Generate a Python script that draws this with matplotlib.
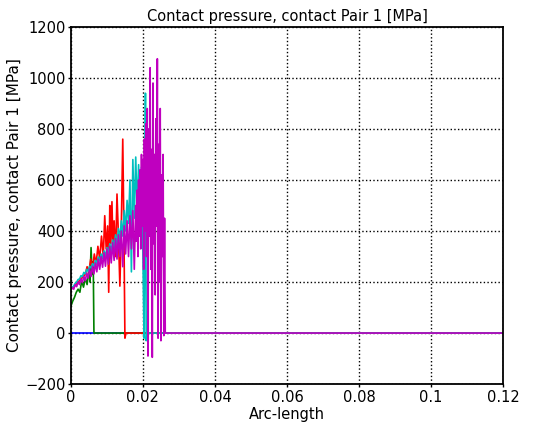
import matplotlib
matplotlib.use('Agg')
import matplotlib.pyplot as plt

# Contact pressure along arc-length, one series per load step
blue_x = [0, 0.12]
blue_y = [0, 0]

green_x = [0, 0.0005, 0.001, 0.0015, 0.002, 0.0025, 0.003, 0.0035, 0.004, 0.0045,
           0.005, 0.0053, 0.0056, 0.0059, 0.0062, 0.0064, 0.12]
green_y = [105, 125, 140, 160, 172, 160, 205, 180, 215, 190, 250, 200, 335, 230, 280, 0, 0]

red_x = [0, 0.001, 0.002, 0.003, 0.004, 0.0045, 0.005, 0.0055, 0.006, 0.0065, 0.007,
         0.0075, 0.008, 0.0085, 0.009, 0.0094, 0.0098, 0.0102, 0.0105, 0.0108, 0.0111,
         0.0114, 0.0117, 0.012, 0.0124, 0.0128, 0.0132, 0.0136, 0.014, 0.0144, 0.0147,
         0.015, 0.0153, 0.12]
red_y = [170, 185, 200, 215, 230, 260, 240, 290, 250, 310, 270, 340, 290, 380, 300,
         460, 330, 420, 160, 500, 350, 515, 330, 440, 300, 545, 380, 184, 420, 760,
         430, -20, 0, 0]

cyan_x = [0, 0.0004, 0.0008, 0.0012, 0.0016, 0.002, 0.0024, 0.0028, 0.0032, 0.0036,
          0.004, 0.0044, 0.0048, 0.0052, 0.0056, 0.006, 0.0064, 0.0068, 0.0072, 0.0076,
          0.008, 0.0084, 0.0088, 0.0092, 0.0096, 0.01, 0.0104, 0.0108, 0.0112, 0.0116,
          0.012, 0.0124, 0.0128, 0.0132, 0.0136, 0.014, 0.0144, 0.0148, 0.0152, 0.0156,
          0.016, 0.0164, 0.0168, 0.0172, 0.0176, 0.018, 0.0184, 0.0188, 0.0192, 0.0196,
          0.02, 0.0203, 0.0205, 0.0207, 0.0209, 0.0211, 0.12]
cyan_y = [170, 180, 185, 195, 200, 210, 212, 225, 222, 238,
          232, 250, 242, 262, 255, 272, 262, 285, 272, 298,
          282, 310, 292, 322, 300, 335, 310, 350, 320, 365,
          335, 385, 345, 410, 360, 440, 380, 480, 400, 520,
          430, 600, 240, 680, 450, 690, 480, 660, 420, 650,
          300, -20, 450, 940, -30, 0, 0]

magenta_x = [0, 0.0004, 0.0008, 0.0012, 0.0016, 0.002, 0.0024, 0.0028, 0.0032, 0.0036,
             0.004, 0.0044, 0.0048, 0.0052, 0.0056, 0.006, 0.0064, 0.0068, 0.0072, 0.0076,
             0.008, 0.0084, 0.0088, 0.0092, 0.0096, 0.01, 0.0104, 0.0108, 0.0112, 0.0116,
             0.012, 0.0124, 0.0128, 0.0132, 0.0136, 0.014, 0.0144, 0.0148, 0.0152, 0.0156,
             0.016, 0.0164, 0.0168, 0.0172, 0.0176, 0.018,
             0.0182, 0.0184, 0.0186, 0.0188, 0.019, 0.0192, 0.0194, 0.0196, 0.0198, 0.02,
             0.0202, 0.0204, 0.0206, 0.0208, 0.021, 0.0212, 0.0214, 0.0216, 0.0218, 0.022,
             0.0222, 0.0224, 0.0226, 0.0228, 0.023, 0.0232, 0.0234, 0.0236, 0.0238, 0.024,
             0.0242, 0.0244, 0.0246, 0.0248, 0.025, 0.0252, 0.0254, 0.0256, 0.0258, 0.026,
             0.0262, 0.12]
magenta_y = [170, 178, 172, 190, 182, 200, 190, 212, 198, 222,
             205, 235, 215, 250, 222, 262, 232, 275, 240, 290,
             250, 300, 258, 315, 262, 330, 270, 340, 275, 355,
             285, 370, 290, 385, 300, 400, 260, 420, 310, 440,
             300, 460, 330, 480, 250, 500,
             360, 560, 300, 600, 380, 640, 330, 700, 420, 680,
             250, 760, 400, 820, 300, 880, -90, 800, 380, 1040,
             250, 720, -95, 980, 350, 700, 150, 840, 420, 1075,
             -20, 740, 200, 880, -30, 620, 300, 700, -10, 450,
             0, 0]

series = [
    (blue_x, blue_y, (0, 0, 1)),
    (green_x, green_y, (0, 0.5, 0)),
    (red_x, red_y, (1, 0, 0)),
    (cyan_x, cyan_y, (0, 0.75, 0.75)),
    (magenta_x, magenta_y, (0.75, 0, 0.75)),
]

fig = plt.figure(figsize=(5.37, 4.34), dpi=100)
ax = fig.add_axes([0.132, 0.115, 0.805, 0.823])

for xs, ys, col in series:
    ax.plot(xs, ys, color=col, linewidth=1.2)

ax.set_xlim(0, 0.12)
ax.set_ylim(-200, 1200)
ax.set_xticks([0, 0.02, 0.04, 0.06, 0.08, 0.1, 0.12])
ax.set_xticklabels(['0', '0.02', '0.04', '0.06', '0.08', '0.1', '0.12'])
ax.set_yticks(range(-200, 1201, 200))
ax.tick_params(length=2.5, width=1, labelsize=10.5, pad=1.5)
ax.grid(True, color='black', linestyle=':', linewidth=1.0)
for s in ax.spines.values():
    s.set_linewidth(1.3)

ax.set_title('Contact pressure, contact Pair 1 [MPa]', fontsize=10.5, pad=4)
ax.set_xlabel('Arc-length', fontsize=10.5, labelpad=2)
ax.set_ylabel('Contact pressure, contact Pair 1 [MPa]', fontsize=11, labelpad=2)

fig.savefig('out.png', dpi=100)
